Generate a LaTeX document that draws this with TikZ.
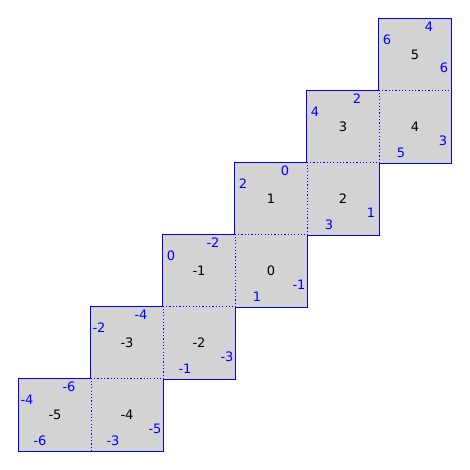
\documentclass[tikz,border=0pt]{standalone}
\usepackage{fontspec}
\setmainfont{DejaVu Sans}
\usetikzlibrary{calc}
\definecolor{tilegray}{HTML}{D3D3D3}
\definecolor{edgeblue}{HTML}{0000FF}

\begin{document}
\begin{tikzpicture}[x=1pt,y=1pt]

    \tikzstyle{tile} = [fill=tilegray, minimum size=72pt, inner sep=0pt,
        font=\fontsize{13}{15}\selectfont]

    \tikzstyle{border} = [draw=edgeblue, line width=1.1pt, line join=miter]

    \tikzstyle{shared} = [draw=edgeblue, line width=1.2pt,
        dash pattern=on 1.2pt off 2.1pt]

    \tikzstyle{elabel} = [text=edgeblue, inner sep=0pt,
        font=\fontsize{13}{15}\selectfont]

    \useasboundingbox (0,0) rectangle (469,470);

    % Tiles
    \foreach \i in {0,...,10} {
        \pgfmathtruncatemacro{\n}{\i-5}
        \pgfmathsetmacro{\xx}{55+72*floor((\i+1)/2)}
        \pgfmathsetmacro{\yy}{55+72*floor(\i/2)}
        \node [tile] (sq\i) at (\xx,\yy) {\n};
    }

    % Glued edges
    \foreach \i in {0,2,4,6,8}
        \draw[shared] (sq\i.south east) -- (sq\i.north east);
    \foreach \i in {1,3,5,7,9}
        \draw[shared] (sq\i.north west) -- (sq\i.north east);

    % Outer border
    \draw[border] (sq0.south west) -- (sq1.south east)
        |- (sq3.south east) |- (sq5.south east) |- (sq7.south east)
        |- (sq9.south east) -- (sq10.north east) -- (sq10.north west)
        |- (sq8.north west) |- (sq6.north west) |- (sq4.north west)
        |- (sq2.north west) |- (sq0.north west) -- cycle;

    % Edge labels, left tiles
    \foreach \i in {0,2,4,6,8,10} {
        \pgfmathtruncatemacro{\a}{\i-6}
        \pgfmathtruncatemacro{\b}{\i-4}
        \node [elabel] (top\i) at ($(sq\i.center)+(14,28)$) {\a};
        \node [elabel] (left\i) at ($(sq\i.center)+(-28,15)$) {\b};
    }

    % Edge labels, right tiles
    \foreach \i in {1,3,5,7,9} {
        \pgfmathtruncatemacro{\a}{\i-6}
        \pgfmathtruncatemacro{\b}{\i-4}
        \node [elabel] (right\i) at ($(sq\i.center)+(28,-14)$) {\a};
        \node [elabel] (bottom\i) at ($(sq\i.center)+(-14,-26)$) {\b};
    }

    % Ends of the strip
    \node [elabel] (bottom0) at ($(sq0.center)+(-15,-26)$) {-6};
    \node [elabel] (right10) at ($(sq10.center)+(29,-13)$) {6};

\end{tikzpicture}
\end{document}
